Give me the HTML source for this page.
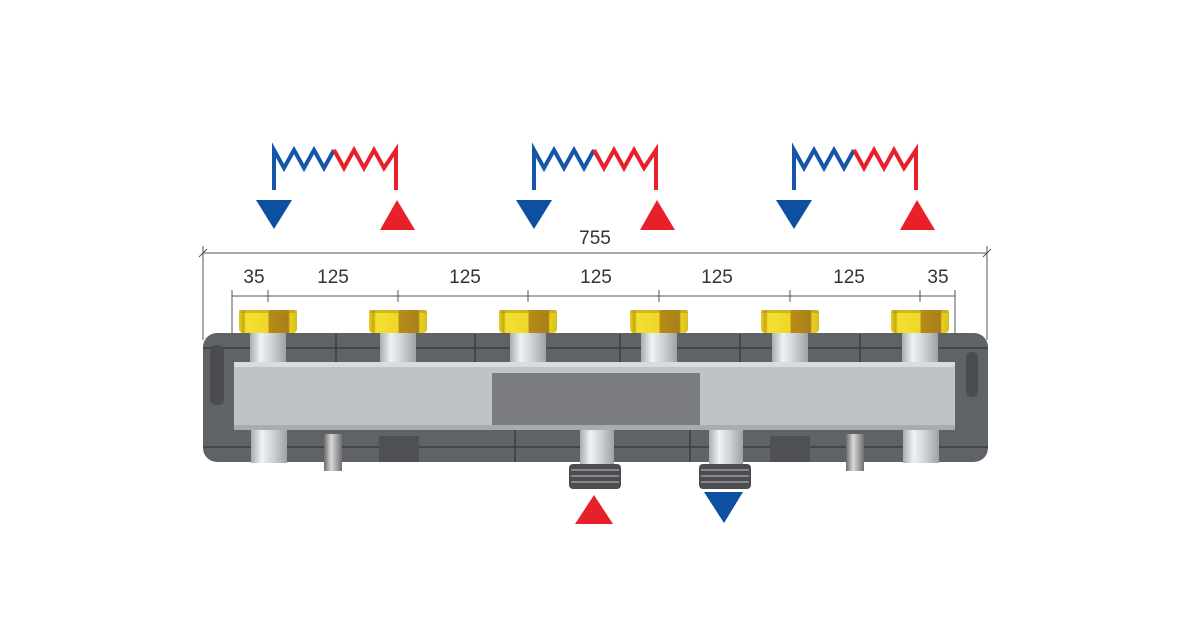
<!DOCTYPE html>
<html><head><meta charset="utf-8"><style>html,body{margin:0;padding:0;background:#fff}svg{display:block}</style></head>
<body>
<svg width="1200" height="630" viewBox="0 0 1200 630" xmlns="http://www.w3.org/2000/svg" font-family="Liberation Sans, sans-serif">
<defs>
<linearGradient id="nut" x1="0" x2="1">
<stop offset="0" stop-color="#e8d020"/><stop offset="0.08" stop-color="#c9a810"/><stop offset="0.12" stop-color="#f2e030"/><stop offset="0.5" stop-color="#eed828"/><stop offset="0.52" stop-color="#b88a18"/><stop offset="0.85" stop-color="#a8801a"/><stop offset="0.88" stop-color="#e8d020"/><stop offset="1" stop-color="#d8c020"/>
</linearGradient>
<linearGradient id="pipe" x1="0" x2="1">
<stop offset="0" stop-color="#a8acb0"/><stop offset="0.3" stop-color="#f0f2f4"/><stop offset="0.6" stop-color="#d0d4d8"/><stop offset="1" stop-color="#9ea2a6"/>
</linearGradient>
<linearGradient id="pin" x1="0" x2="1">
<stop offset="0" stop-color="#6a6a6a"/><stop offset="0.4" stop-color="#d8d8d8"/><stop offset="1" stop-color="#707070"/>
</linearGradient>
<g id="nutg"><rect x="-29" y="0" width="58" height="23" rx="4" fill="url(#nut)"/><rect x="-29" y="0" width="58" height="3" fill="#b49018" opacity=".5"/></g>
<g id="zz">
<polyline points="0,190 0,150 10,168 20,150 30,168 40,150 50,168 60,150" fill="none" stroke="#1456a8" stroke-width="4" stroke-linejoin="miter"/>
<polyline points="60,150 70,168 80,150 90,168 100,150 110,168 122,150 122,190" fill="none" stroke="#e8202a" stroke-width="4"/>
<polygon points="-18,200 18,200 0,229" fill="#0d4fa0"/>
<polygon points="106,230 141,230 123,200" fill="#e8202a"/>
</g>
</defs>
<use href="#zz" x="274"/><use href="#zz" x="534"/><use href="#zz" x="794"/>

<!-- dimensions -->
<g stroke="#555" stroke-width="1">
<line x1="203" y1="253" x2="987" y2="253"/>
<line x1="203" y1="246" x2="203" y2="340"/><line x1="987" y1="246" x2="987" y2="340"/>
<line x1="199" y1="257" x2="207" y2="249"/><line x1="983" y1="257" x2="991" y2="249"/>
<line x1="232" y1="296" x2="955" y2="296"/>
<line x1="232" y1="290" x2="232" y2="340"/><line x1="955" y1="290" x2="955" y2="340"/>
<g>
<line x1="268" y1="290" x2="268" y2="302"/><line x1="398" y1="290" x2="398" y2="302"/><line x1="528" y1="290" x2="528" y2="302"/>
<line x1="659" y1="290" x2="659" y2="302"/><line x1="790" y1="290" x2="790" y2="302"/><line x1="920" y1="290" x2="920" y2="302"/>
</g>
</g>
<g font-size="19" fill="#333" text-anchor="middle">
<text x="595" y="244">755</text>
<text x="254" y="283">35</text><text x="333" y="283">125</text><text x="465" y="283">125</text>
<text x="596" y="283">125</text><text x="717" y="283">125</text><text x="849" y="283">125</text><text x="938" y="283">35</text>
</g>

<!-- body -->
<rect x="203" y="333" width="785" height="129" rx="14" fill="#5f6266"/>
<g stroke="#3a3c40" stroke-width="1.5">
<line x1="203" y1="348" x2="988" y2="348"/><line x1="203" y1="447" x2="988" y2="447"/>
<line x1="336" y1="334" x2="336" y2="362"/><line x1="475" y1="334" x2="475" y2="362"/><line x1="620" y1="334" x2="620" y2="362"/><line x1="740" y1="334" x2="740" y2="362"/><line x1="860" y1="334" x2="860" y2="362"/>
<line x1="515" y1="430" x2="515" y2="462"/><line x1="690" y1="430" x2="690" y2="462"/>
</g>
<rect x="210" y="345" width="14" height="60" rx="6" fill="#4a4c50"/>
<rect x="966" y="352" width="12" height="45" rx="5" fill="#4a4c50"/>
<rect x="234" y="362" width="721" height="68" fill="#bfc3c7"/>
<rect x="234" y="362" width="721" height="5" fill="#d8dcde"/>
<rect x="234" y="425" width="721" height="5" fill="#a8acb0"/>
<rect x="492" y="373" width="208" height="52" fill="#7a7c80"/>

<!-- top pipes & nuts -->
<g>
<rect x="250" y="333" width="36" height="29" fill="url(#pipe)"/><rect x="380" y="333" width="36" height="29" fill="url(#pipe)"/><rect x="510" y="333" width="36" height="29" fill="url(#pipe)"/>
<rect x="641" y="333" width="36" height="29" fill="url(#pipe)"/><rect x="772" y="333" width="36" height="29" fill="url(#pipe)"/><rect x="902" y="333" width="36" height="29" fill="url(#pipe)"/>
</g>
<use href="#nutg" x="268" y="310"/><use href="#nutg" x="398" y="310"/><use href="#nutg" x="528" y="310"/>
<use href="#nutg" x="659" y="310"/><use href="#nutg" x="790" y="310"/><use href="#nutg" x="920" y="310"/>

<!-- bottom -->
<rect x="251" y="430" width="36" height="33" fill="url(#pipe)"/><rect x="903" y="430" width="36" height="33" fill="url(#pipe)"/>
<rect x="379" y="436" width="40" height="26" fill="#4e5054"/><rect x="770" y="436" width="40" height="26" fill="#4e5054"/>
<rect x="324" y="434" width="18" height="37" fill="url(#pin)"/><rect x="846" y="434" width="18" height="37" fill="url(#pin)"/>
<rect x="580" y="430" width="34" height="34" fill="url(#pipe)"/><rect x="709" y="430" width="34" height="34" fill="url(#pipe)"/>
<g>
<rect x="569" y="464" width="52" height="25" rx="4" fill="#4a4c50"/>
<rect x="699" y="464" width="52" height="25" rx="4" fill="#4a4c50"/>
<g stroke="#9a9ca0" stroke-width="1.5"><line x1="571" y1="470" x2="619" y2="470"/><line x1="571" y1="476" x2="619" y2="476"/><line x1="571" y1="482" x2="619" y2="482"/>
<line x1="701" y1="470" x2="749" y2="470"/><line x1="701" y1="476" x2="749" y2="476"/><line x1="701" y1="482" x2="749" y2="482"/></g>
</g>
<polygon points="575,524 613,524 594,495" fill="#e8202a"/>
<polygon points="704,492 743,492 724,523" fill="#0d4fa0"/>
</svg>
</body></html>
